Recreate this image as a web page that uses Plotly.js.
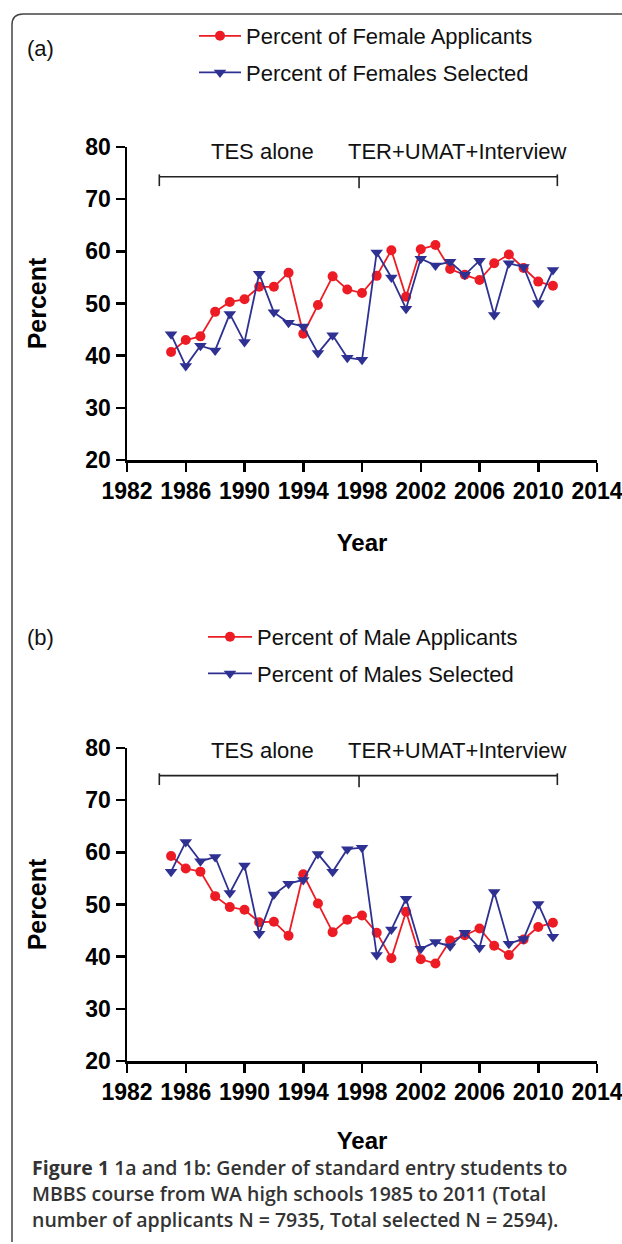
<!DOCTYPE html>
<html><head><meta charset="utf-8">
<script src="https://cdn.plot.ly/plotly-3.0.1.min.js"></script>
<style>html,body{margin:0;padding:0;background:#fff;} #chart{width:622px;height:1244px;}</style>
</head><body><div id="chart"></div>
<script>
const years = [1985,1986,1987,1988,1989,1990,1991,1992,1993,1994,1995,1996,1997,1998,1999,2000,2001,2002,2003,2004,2005,2006,2007,2008,2009,2010,2011];
const femaleApplicants = [40.7,43.0,43.7,48.4,50.3,50.8,53.2,53.2,55.9,44.2,49.7,55.2,52.7,52.0,55.3,60.2,51.3,60.4,61.2,56.6,55.5,54.5,57.7,59.4,56.8,54.2,53.4];
const femaleSelected = [44.1,38.0,41.9,41.0,48.0,42.6,55.7,48.3,46.3,45.6,40.5,43.9,39.6,39.2,59.8,55.0,49.0,58.6,57.3,58.0,55.5,58.2,47.8,57.7,57.0,50.1,56.4];
const maleApplicants = [59.3,56.9,56.3,51.6,49.5,49.0,46.6,46.7,44.0,55.8,50.2,44.7,47.1,47.9,44.6,39.7,48.6,39.5,38.7,43.1,44.1,45.4,42.1,40.3,43.3,45.7,46.5];
const maleSelected = [56.3,62.0,58.3,59.1,52.2,57.5,44.4,51.9,54.0,54.7,59.7,56.3,60.6,60.9,40.3,45.2,51.1,41.5,42.8,42.0,44.6,41.7,52.4,42.5,43.4,50.1,43.8];
const seriesNamesA = ['Percent of Female Applicants','Percent of Females Selected'];
const seriesNamesB = ['Percent of Male Applicants','Percent of Males Selected'];
const periodLabels = ['TES alone','TER+UMAT+Interview'];
const periodLabelYears = [1991.2, 2004.5];
const periodBounds = [1984.2, 1997.8, 2011.3];
const xTicks = [1982,1986,1990,1994,1998,2002,2006,2010,2014];
const yTicks = [20,30,40,50,60,70,80];
const captionLines = ['<b>Figure 1</b> 1a and 1b: Gender of standard entry students to','MBBS course from WA high schools 1985 to 2011 (Total','number of applicants N = 7935, Total selected N = 2594).'];

const W = 622, H = 1244, ML = 127, MR = 25;
const PW = W - ML - MR;
const px2x = p => (p - ML) / PW;
const py2y = p => 1 - p / H;

const RED = '#ED1C24', BLUE = '#2E3192';
const FONT = 'Liberation Sans, Arial, sans-serif';

function mkTrace(y, name, color, symbol, size, xa, ya, leg, grp) {
  return {x: years, y: y, name: name, type: 'scatter', mode: 'lines+markers',
    xaxis: xa, yaxis: ya, legend: leg, legendgroup: grp,
    line: {color: color, width: 1.8},
    marker: {symbol: symbol, size: size, color: color}};
}

const data = [
  mkTrace(femaleApplicants, seriesNamesA[0], RED, 'circle', 10, 'x', 'y', 'legend', 'a1'),
  mkTrace(femaleSelected, seriesNamesA[1], BLUE, 'triangle-down', 11, 'x', 'y', 'legend', 'a2'),
  mkTrace(maleApplicants, seriesNamesB[0], RED, 'circle', 10, 'x2', 'y2', 'legend2', 'b1'),
  mkTrace(maleSelected, seriesNamesB[1], BLUE, 'triangle-down', 11, 'x2', 'y2', 'legend2', 'b2')
];

function xax(anchor, standoff) {
  return {domain: [0, 1], range: [1982, 2014], anchor: anchor, tickvals: xTicks,
    showline: true, linewidth: 2.5, linecolor: '#000', ticks: 'outside', ticklen: 9, tickwidth: 2.5, tickcolor: '#000',
    showgrid: false, zeroline: false, ticklabeloverflow: 'allow',
    tickfont: {family: FONT, size: 23, weight: 'bold', color: '#000'},
    title: {text: 'Year', font: {family: FONT, size: 24, weight: 'bold', color: '#000'}, standoff: standoff}};
}
function yax(anchor, top, bottom) {
  return {domain: [py2y(bottom), py2y(top)], range: [20, 80], anchor: anchor, tickvals: yTicks,
    showline: true, linewidth: 2.5, linecolor: '#000', ticks: 'outside', ticklen: 9, tickwidth: 2.5, tickcolor: '#000',
    showgrid: false, zeroline: false, ticklabeloverflow: 'allow',
    tickfont: {family: FONT, size: 23, weight: 'bold', color: '#000'},
    title: {text: 'Percent', font: {family: FONT, size: 25, weight: 'bold', color: '#000'}, standoff: 32}};
}

function bracket(xr, yr, yLine) {
  const sh = [];
  const st = {color: '#222', width: 1.6};
  sh.push({type: 'line', xref: xr, yref: yr, x0: periodBounds[0], x1: periodBounds[2], y0: yLine, y1: yLine, line: st});
  sh.push({type: 'line', xref: xr, yref: yr, x0: periodBounds[0], x1: periodBounds[0], y0: yLine + 0.45, y1: yLine - 1.8, line: st});
  sh.push({type: 'line', xref: xr, yref: yr, x0: periodBounds[1], x1: periodBounds[1], y0: yLine, y1: yLine - 2.2, line: st});
  sh.push({type: 'line', xref: xr, yref: yr, x0: periodBounds[2], x1: periodBounds[2], y0: yLine + 0.45, y1: yLine - 1.8, line: st});
  return sh;
}
function periodAnns(xr, yr, yv) {
  return periodLabels.map((t, i) => ({text: t, xref: xr, yref: yr, x: periodLabelYears[i], y: yv,
    showarrow: false, xanchor: 'center', yanchor: 'middle', font: {family: FONT, size: 22, color: '#111'}}));
}

const borderPath = `M ${px2x(12)} ${py2y(1242)} L ${px2x(12)} ${py2y(25)} Q ${px2x(12)} ${py2y(14)} ${px2x(23)} ${py2y(14)} L ${px2x(630)} ${py2y(14)}`;

const legendCommon = {xanchor: 'left', yanchor: 'top', bgcolor: 'rgba(0,0,0,0)', traceorder: 'grouped', tracegroupgap: 5,
  font: {family: FONT, size: 22, color: '#111'}};

const captionY = [1167, 1193, 1219];
const captionAnns = captionLines.map((t, i) => ({text: t, xref: 'paper', yref: 'paper', x: px2x(30), y: py2y(captionY[i]),
  xanchor: 'left', yanchor: 'middle', align: 'left', showarrow: false,
  font: {family: 'Open Sans, Noto Sans, sans-serif', size: 19.5, color: '#333', weight: 600}}));

const layout = {
  width: W, height: H,
  margin: {l: ML, r: MR, t: 0, b: 0},
  paper_bgcolor: '#fff', plot_bgcolor: '#fff',
  showlegend: true,
  xaxis: xax('y', 31), yaxis: yax('x', 147, 460),
  xaxis2: xax('y2', 28), yaxis2: yax('x2', 748, 1061),
  legend: Object.assign({x: px2x(194), y: py2y(15), itemwidth: 42}, legendCommon),
  legend2: Object.assign({x: px2x(203), y: py2y(616), itemwidth: 44}, legendCommon),
  shapes: [
    ...bracket('x', 'y', 74.3),
    ...bracket('x2', 'y2', 74.7),
    {type: 'path', xref: 'paper', yref: 'paper', path: borderPath, line: {color: '#444', width: 1.5}}
  ],
  annotations: [
    ...periodAnns('x', 'y', 79.2),
    ...periodAnns('x2', 'y2', 79.6),
    {text: '(a)', xref: 'paper', yref: 'paper', x: px2x(25), y: py2y(48), xanchor: 'left', yanchor: 'middle', showarrow: false, font: {family: FONT, size: 22, color: '#111'}},
    {text: '(b)', xref: 'paper', yref: 'paper', x: px2x(25), y: py2y(637), xanchor: 'left', yanchor: 'middle', showarrow: false, font: {family: FONT, size: 22, color: '#111'}},
    ...captionAnns
  ]
};

Plotly.newPlot('chart', data, layout, {displayModeBar: false, staticPlot: true});
</script>
</body></html>
